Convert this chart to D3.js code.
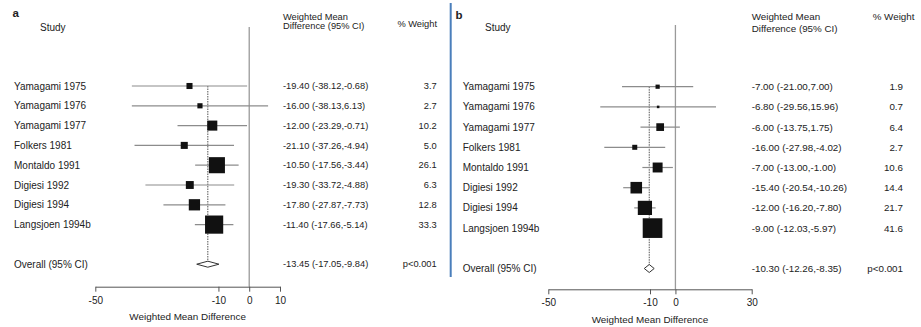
<!DOCTYPE html>
<html>
<head>
<meta charset="utf-8">
<script src="https://cdn.jsdelivr.net/npm/d3@7"></script>
<style>
  body { margin: 0; background: #fff; }
  svg { display: block; font-family: "Liberation Sans", Arial, sans-serif; }
  text { fill: #222; }
</style>
</head>
<body>
<svg id="chart" width="921" height="327"></svg>
<script>
// ---------- data ----------
const studies = ["Yamagami 1975", "Yamagami 1976", "Yamagami 1977", "Folkers 1981",
                 "Montaldo 1991", "Digiesi 1992", "Digiesi 1994", "Langsjoen 1994b"];

const estA = [-19.40, -16.00, -12.00, -21.10, -10.50, -19.30, -17.80, -11.40];
const loA  = [-38.12, -38.13, -23.29, -37.26, -17.56, -33.72, -27.87, -17.66];
const hiA  = [-0.68, 6.13, -0.71, -4.94, -3.44, -4.88, -7.73, -5.14];
const wA   = [3.7, 2.7, 10.2, 5.0, 26.1, 6.3, 12.8, 33.3];
const overallA = [-13.45, -17.05, -9.84];
const ticksA = [-50, -10, 0, 10];

const estB = [-7.00, -6.80, -6.00, -16.00, -7.00, -15.40, -12.00, -9.00];
const loB  = [-21.00, -29.56, -13.75, -27.98, -13.00, -20.54, -16.20, -12.03];
const hiB  = [7.00, 15.96, 1.75, -4.02, -1.00, -10.26, -7.80, -5.97];
const wB   = [1.9, 0.7, 6.4, 2.7, 10.6, 14.4, 21.7, 41.6];
const overallB = [-10.30, -12.26, -8.35];
const ticksB = [-50, -10, 0, 30];

const pValue = "p<0.001";
const overallLabel = "Overall (95% CI)";

// ---------- drawing ----------
const svg = d3.select("#chart");
const f2 = d3.format(".2f");
const fmt = v => f2(v).replace("−", "-");
const f1 = v => d3.format(".1f")(v);

function panel(cfg) {
  const g = svg.append("g");
  const x = d3.scaleLinear().domain(cfg.domain).range(cfg.xRange);
  const y = d3.scaleLinear().domain([0, 1]).range([cfg.y0, cfg.y0 + cfg.step]);
  const size = d3.scaleSqrt().domain([0, 100]).range([0, cfg.boxK]);
  const overallIdx = studies.length + 1;

  // panel letter
  g.append("text").attr("x", cfg.letterX).attr("y", cfg.letterY)
    .attr("font-size", 11.5).attr("font-weight", "bold").text(cfg.letter);

  // headers
  g.append("text").attr("x", cfg.studyX).attr("y", 31).attr("font-size", 10).text("Study");
  g.append("text").attr("x", cfg.valX).attr("y", cfg.h1Y).attr("font-size", cfg.valFont).text("Weighted Mean");
  g.append("text").attr("x", cfg.valX).attr("y", cfg.h2Y).attr("font-size", cfg.valFont).text("Difference (95% CI)");
  g.append("text").attr("x", cfg.wHeadX).attr("y", cfg.wHeadY).attr("font-size", cfg.valFont)
    .attr("text-anchor", cfg.wHeadAnchor).text("% Weight");

  // zero line
  g.append("line").attr("x1", x(0)).attr("x2", x(0)).attr("y1", cfg.zeroTop).attr("y2", cfg.axisY)
    .attr("stroke", "#9a9a9a").attr("stroke-width", 1.3);

  // dashed overall line
  g.append("line").attr("x1", x(cfg.overall[0])).attr("x2", x(cfg.overall[0]))
    .attr("y1", y(0)).attr("y2", y(overallIdx))
    .attr("stroke", "#555").attr("stroke-width", 1).attr("stroke-dasharray", "1.5,1");

  const rows = studies.map((s, i) => ({ s, i, est: cfg.est[i], lo: cfg.lo[i], hi: cfg.hi[i], w: cfg.w[i] }));

  // CI lines
  g.selectAll(".ci").data(rows).join("line")
    .attr("x1", d => x(d.lo)).attr("x2", d => x(d.hi))
    .attr("y1", d => y(d.i)).attr("y2", d => y(d.i))
    .attr("stroke", "#8c8c8c").attr("stroke-width", 1.2);

  // boxes
  g.selectAll(".box").data(rows).join("rect")
    .attr("x", d => x(d.est) - size(d.w) / 2)
    .attr("y", d => y(d.i) - size(d.w) / 2)
    .attr("width", d => size(d.w)).attr("height", d => size(d.w))
    .attr("fill", "#111");

  // diamond
  const oy = y(overallIdx);
  const [oe, ol, oh] = cfg.overall;
  g.append("path")
    .attr("d", `M${x(ol)},${oy}L${x(oe)},${oy - cfg.dh}L${x(oh)},${oy}L${x(oe)},${oy + cfg.dh}Z`)
    .attr("fill", "#fff").attr("stroke", "#333").attr("stroke-width", 1);

  // study labels
  g.selectAll(".lab").data(rows).join("text")
    .attr("x", cfg.labelX).attr("y", d => y(d.i)).attr("dy", "0.35em")
    .attr("font-size", 10).text(d => d.s);
  g.append("text").attr("x", cfg.labelX).attr("y", oy).attr("dy", "0.35em")
    .attr("font-size", 10).text(overallLabel);

  // values
  g.selectAll(".val").data(rows).join("text")
    .attr("x", cfg.valX).attr("y", d => y(d.i)).attr("dy", "0.35em")
    .attr("font-size", cfg.valFont)
    .text(d => `${fmt(d.est)} (${fmt(d.lo)},${fmt(d.hi)})`);
  g.append("text").attr("x", cfg.valX).attr("y", oy).attr("dy", "0.35em")
    .attr("font-size", cfg.valFont)
    .text(`${fmt(oe)} (${fmt(ol)},${fmt(oh)})`);

  // weights
  g.selectAll(".wt").data(rows).join("text")
    .attr("x", cfg.wX).attr("y", d => y(d.i)).attr("dy", "0.35em")
    .attr("text-anchor", "end").attr("font-size", cfg.valFont).text(d => f1(d.w));
  g.append("text").attr("x", cfg.wX).attr("y", oy).attr("dy", "0.35em")
    .attr("text-anchor", "end").attr("font-size", cfg.valFont).text(pValue);

  // axis
  const ax = g.append("g").attr("transform", `translate(0,${cfg.axisY})`)
    .call(d3.axisBottom(x).tickValues(cfg.ticks).tickSize(5).tickSizeOuter(0).tickPadding(5)
      .tickFormat(d => String(d)));
  ax.select(".domain").attr("stroke", "#555");
  ax.selectAll(".tick line").attr("stroke", "#555");
  ax.selectAll(".tick text").attr("font-size", 10).attr("fill", "#222")
    .attr("font-family", '"Liberation Sans", Arial, sans-serif');

  g.append("text").attr("x", (cfg.xRange[0] + cfg.xRange[1]) / 2).attr("y", cfg.titleY)
    .attr("text-anchor", "middle").attr("font-size", 9.9).text("Weighted Mean Difference");
}

panel({
  letter: "a", letterX: 12.5, letterY: 17,
  domain: [-50, 10], xRange: [95.3, 280], ticks: ticksA,
  y0: 86, step: 19.8, boxK: 31.5, dh: 3,
  est: estA, lo: loA, hi: hiA, w: wA, overall: overallA,
  studyX: 40, labelX: 14, valX: 283, valFont: 9.3,
  h1Y: 19.5, h2Y: 28.5, wHeadX: 437, wHeadY: 27, wHeadAnchor: "end",
  wX: 436.7, zeroTop: 27, axisY: 286.7, titleY: 319.5
});

panel({
  letter: "b", letterX: 455.5, letterY: 19,
  domain: [-50, 30], xRange: [548.3, 751.7], ticks: ticksB,
  y0: 86.7, step: 20.2, boxK: 30.5, dh: 4,
  est: estB, lo: loB, hi: hiB, w: wB, overall: overallB,
  studyX: 485, labelX: 462.7, valX: 751.7, valFont: 9.8,
  h1Y: 20, h2Y: 32, wHeadX: 872.7, wHeadY: 20, wHeadAnchor: "start",
  wX: 903, zeroTop: 25, axisY: 289.3, titleY: 323
});

// separator
svg.append("line").attr("x1", 450.7).attr("x2", 450.7).attr("y1", 3).attr("y2", 277)
  .attr("stroke", "#4a7ebb").attr("stroke-width", 2);
</script>
</body>
</html>
